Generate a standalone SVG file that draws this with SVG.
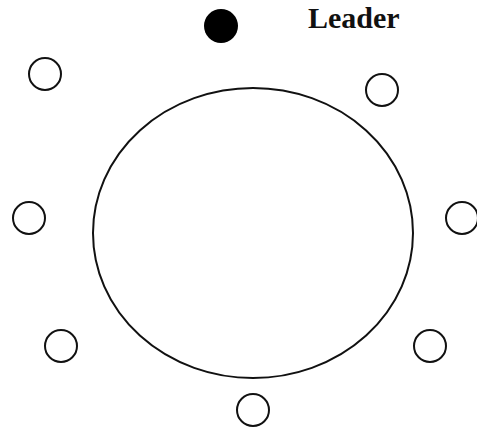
<svg xmlns="http://www.w3.org/2000/svg" width="477" height="431" viewBox="0 0 477 431">
<style>
.node{fill:#fff;stroke:#111;stroke-width:2}
.big{fill:none;stroke:#111;stroke-width:2}
.lbl{font-family:"Liberation Serif",serif;font-weight:bold;font-size:30px;fill:#111}
</style>
<rect width="477" height="431" fill="#fff"/>
<g id="ring"><ellipse class="big" cx="253" cy="233" rx="160" ry="145"/></g>
<g id="leader"><circle cx="221" cy="26" r="17" fill="#000"/><text class="lbl" x="308" y="28">Leader</text></g>
<g id="n1"><circle class="node" cx="45" cy="74" r="16"/></g>
<g id="n2"><circle class="node" cx="382" cy="90" r="16"/></g>
<g id="n3"><circle class="node" cx="462" cy="218" r="16"/></g>
<g id="n4"><circle class="node" cx="29" cy="218" r="16"/></g>
<g id="n5"><circle class="node" cx="61" cy="346" r="16"/></g>
<g id="n6"><circle class="node" cx="430" cy="346" r="16"/></g>
<g id="n7"><circle class="node" cx="253" cy="410" r="16"/></g>
<g id="connectors"></g>
</svg>
